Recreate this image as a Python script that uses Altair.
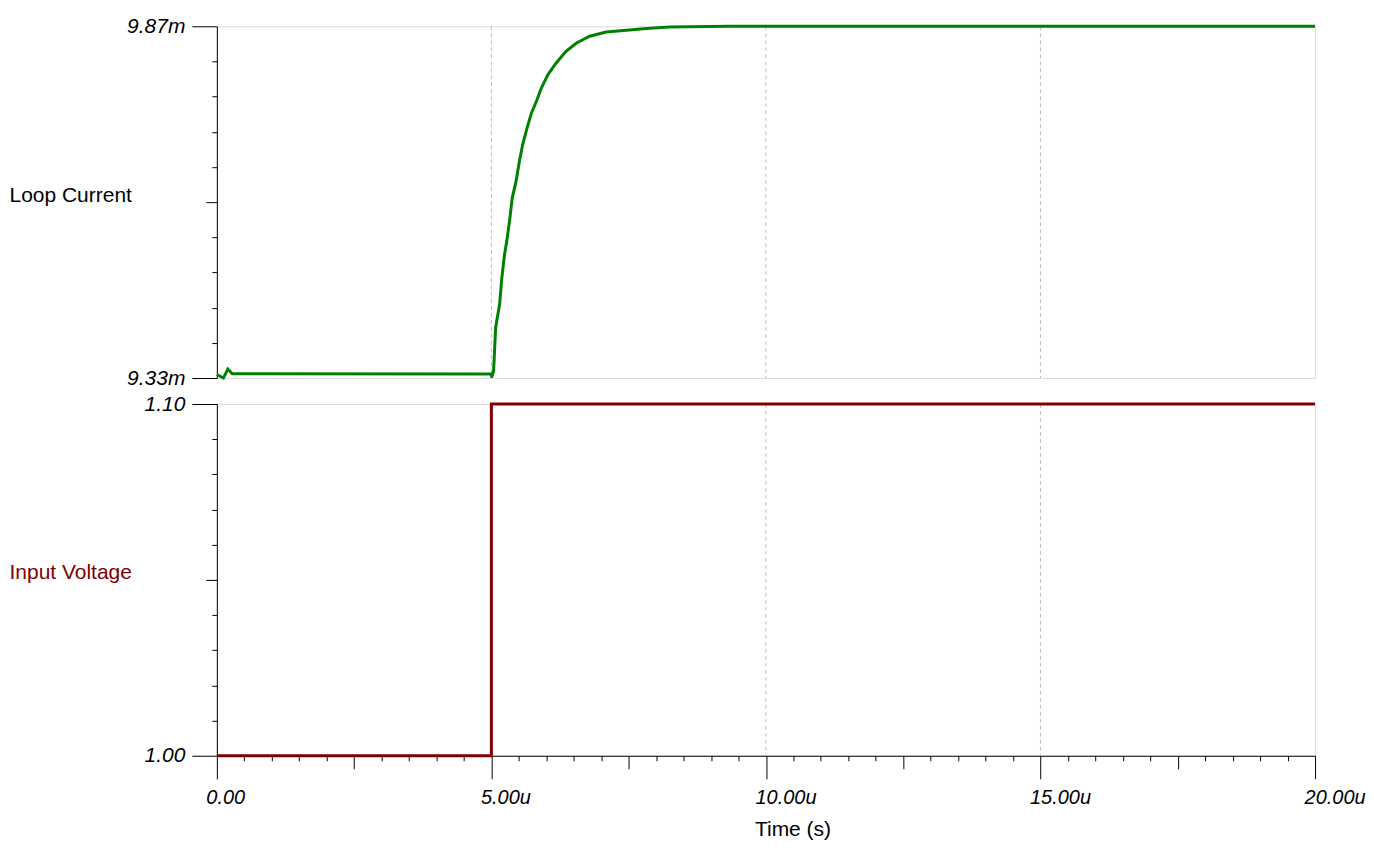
import altair as alt
import pandas as pd

# ---- data (time in microseconds) ----
t_cur = [0.0, 0.12, 0.2, 0.28, 5.0, 5.005, 5.04, 5.077, 5.15, 5.19, 5.24, 5.28,
         5.33, 5.38, 5.45, 5.51, 5.57, 5.65, 5.73, 5.82, 5.91, 6.03, 6.18, 6.36,
         6.55, 6.79, 7.09, 7.46, 7.82, 8.24, 9.34, 20.0]
i_cur = [9.3355, 9.3300, 9.3438, 9.3365, 9.3362, 9.3305, 9.3408, 9.4072, 9.4435,
         9.4839, 9.5202, 9.5402, 9.5709, 9.6066, 9.6322, 9.6629, 9.6885, 9.714,
         9.737, 9.7549, 9.7753, 9.7959, 9.8137, 9.8316, 9.8444, 9.8547, 9.8613,
         9.8639, 9.8665, 9.8689, 9.87, 9.87]   # mA

t_vin = [0.0, 5.0, 5.0, 20.0]
v_in = [1.00, 1.00, 1.10, 1.10]

grid_t = [5.0, 10.0, 15.0]

cur_domain = [9.33, 9.87]
vin_domain = [1.00, 1.10]
x_domain = [0.0, 20.0]

x_ticks = [k * 0.5 for k in range(41)]
cur_ticks = [round(cur_domain[0] + k * (cur_domain[1] - cur_domain[0]) / 10, 4) for k in range(11)]
vin_ticks = [round(vin_domain[0] + k * (vin_domain[1] - vin_domain[0]) / 10, 4) for k in range(11)]

df_cur = pd.DataFrame({"t": t_cur, "v": i_cur, "o": list(range(len(t_cur)))})
df_vin = pd.DataFrame({"t": t_vin, "v": v_in, "o": list(range(len(t_vin)))})
df_grid = pd.DataFrame({"t": grid_t})

FONT = "Liberation Sans"
GREEN = "#008000"
RED = "#800000"
GRAY = "#c0c0c0"

W, H = 1099, 352

xscale = alt.Scale(domain=x_domain, nice=False, zero=False)


def y_axis(title, color, ticks, suffix, domain):
    lo, hi = domain
    mid = (lo + hi) / 2
    eps = (hi - lo) / 1000
    ends = f"(abs(datum.value - {lo}) < {eps} || abs(datum.value - {hi}) < {eps})"
    middle = f"abs(datum.value - {mid}) < {eps}"
    return alt.Axis(
        values=ticks,
        title=title,
        titleAngle=0,
        titleAlign="left",
        titleBaseline="alphabetic",
        titleX=-208,
        titleY=175,
        titleColor=color,
        titleFont=FONT,
        titleFontSize=21,
        titleFontWeight="normal",
        labelExpr=f"{ends} ? format(datum.value, '.2f') + '{suffix}' : ''",
        labelFont=FONT,
        labelFontSize=21,
        labelFontStyle="italic",
        labelColor="black",
        labelPadding=7,
        labelOverlap=False,
        labelBaseline="middle",
        tickSize=alt.ExprRef(f"{ends} ? 25 : ({middle} ? 11 : 5)"),
        tickColor="black",
        tickWidth=1,
        domainColor="black",
        domainWidth=1,
        grid=False,
    )


x_axis = alt.Axis(
    values=x_ticks,
    title="Time (s)",
    titleFont=FONT,
    titleFontSize=21,
    titleFontWeight="normal",
    titleColor="black",
    titleAlign="left",
    titleBaseline="alphabetic",
    titleX=538,
    titleY=80,
    labelExpr="datum.value % 5 == 0 ? (datum.value == 0 ? '0.00' : format(datum.value, '.2f') + 'u') : ''",
    labelFont=FONT,
    labelFontSize=20,
    labelFontStyle="italic",
    labelColor="black",
    labelAlign="left",
    labelOffset=-11,
    labelPadding=9,
    labelOverlap=False,
    labelFlush=False,
    labelBound=False,
    tickSize=alt.ExprRef(
        "datum.value % 5 == 0 ? 23 : (datum.value % 2.5 == 0 ? 13 : 5)"
    ),
    tickColor="black",
    tickWidth=1,
    domainColor="black",
    domainWidth=1,
    grid=False,
)

line_cur = alt.Chart(df_cur).mark_line(color=GREEN, strokeWidth=3, interpolate="linear").encode(
    x=alt.X("t:Q", scale=xscale, axis=None),
    y=alt.Y("v:Q", scale=alt.Scale(domain=cur_domain, nice=False, zero=False),
            axis=y_axis("Loop Current", "black", cur_ticks, "m", cur_domain)),
    order="o:Q",
)
grid_top = alt.Chart(df_grid).mark_rule(color=GRAY, strokeDash=[4, 3], strokeWidth=1).encode(
    x=alt.X("t:Q", scale=xscale, axis=None)
)

line_vin = alt.Chart(df_vin).mark_line(color=RED, strokeWidth=3, interpolate="linear").encode(
    x=alt.X("t:Q", scale=xscale, axis=x_axis),
    y=alt.Y("v:Q", scale=alt.Scale(domain=vin_domain, nice=False, zero=False),
            axis=y_axis("Input Voltage", RED, vin_ticks, "", vin_domain)),
    order="o:Q",
)
grid_bot = alt.Chart(df_grid).mark_rule(color=GRAY, strokeDash=[4, 3], strokeWidth=1).encode(
    x=alt.X("t:Q", scale=xscale, axis=x_axis)
)

top = alt.layer(grid_top, line_cur).properties(width=W, height=H)
bottom = alt.layer(grid_bot, line_vin).properties(width=W, height=H)

chart = alt.vconcat(top, bottom, spacing=26, bounds="flush").properties(
    padding={"left": 0, "top": 6, "right": 0, "bottom": 0}
).configure_view(
    stroke=GRAY, strokeWidth=1
).configure(
    background="white"
)

chart.save("out.html", embed_options={"renderer": "svg", "actions": False})
